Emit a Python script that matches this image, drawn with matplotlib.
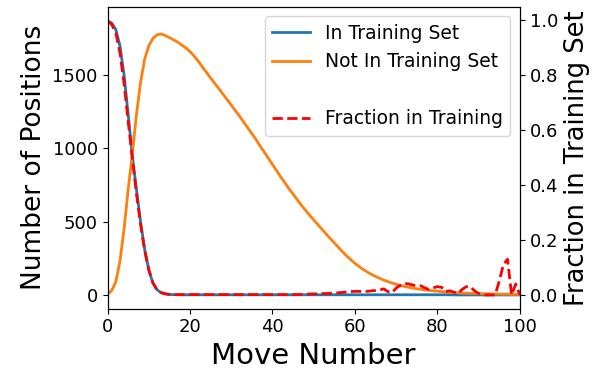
import numpy as np
import matplotlib
matplotlib.use("Agg")
import matplotlib.pyplot as plt
from matplotlib.lines import Line2D

plt.rcParams['font.size'] = 13

# move number 0..100
moves = list(range(0, 101))

in_training = [1870, 1855, 1810, 1700, 1500, 1230, 950, 720, 500, 310,
               170, 80, 35, 15, 7, 3, 2, 1, 1, 1,
               1, 1, 1, 1, 1, 1, 1, 1, 1, 1,
               1, 1, 1, 1, 1, 1, 1, 1, 1, 1,
               1, 1, 1, 1, 1, 1, 1, 1, 1, 1,
               1, 1, 1, 1, 1, 1, 1, 1, 1, 1,
               1, 1, 1, 1, 1, 1, 1, 1, 1, 1,
               1, 1, 1, 1, 1, 1, 1, 1, 1, 1,
               1, 1, 1, 1, 0, 0, 0, 0, 0, 0,
               0, 0, 0, 0, 0, 0, 0, 0, 0, 0,
               0]

not_in_training = [5, 30, 90, 230, 450, 720, 960, 1230, 1450, 1610,
                   1700, 1750, 1775, 1780, 1770, 1755, 1740, 1725, 1705, 1685,
                   1660, 1630, 1595, 1555, 1518, 1480, 1443, 1407, 1370, 1332,
                   1295, 1257, 1220, 1180, 1140, 1100, 1060, 1015, 975, 932,
                   890, 848, 805, 765, 725, 688, 650, 612, 578, 545,
                   512, 480, 448, 416, 385, 355, 324, 294, 266, 240,
                   216, 194, 174, 156, 140, 126, 113, 101, 91, 81,
                   73, 65, 58, 52, 47, 42, 38, 34, 31, 28,
                   25, 23, 20, 18, 16, 15, 13, 12, 11, 10,
                   9, 8, 8, 7, 6, 6, 5, 5, 4, 4,
                   3]

fraction = [0.997, 0.984, 0.953, 0.881, 0.769, 0.631, 0.497, 0.369, 0.256, 0.161,
            0.091, 0.044, 0.019, 0.008, 0.004, 0.002, 0.001, 0.001, 0.001, 0.001,
            0.001, 0.001, 0.001, 0.001, 0.001, 0.001, 0.001, 0.001, 0.001, 0.001,
            0.001, 0.001, 0.001, 0.001, 0.001, 0.001, 0.001, 0.001, 0.001, 0.001,
            0.001, 0.001, 0.001, 0.001, 0.001, 0.001, 0.001, 0.002, 0.003, 0.003,
            0.004, 0.004, 0.005, 0.005, 0.006, 0.006, 0.008, 0.009, 0.011, 0.012,
            0.013, 0.013, 0.012, 0.013, 0.015, 0.016, 0.018, 0.022, 0.012, 0.008,
            0.025, 0.035, 0.042, 0.040, 0.036, 0.033, 0.033, 0.025, 0.020, 0.026,
            0.030, 0.028, 0.012, 0.015, 0.010, 0.005, 0.020, 0.030, 0.030, 0.015,
            0.005, 0.0, 0.0, 0.0, 0.0, 0.05, 0.11, 0.13, 0.0, 0.04,
            0.0]

fig = plt.figure(figsize=(6.01, 3.75), dpi=100)
ax = fig.add_axes([0.179, 0.177, 0.686, 0.804])
ax2 = ax.twinx()

l1, = ax.plot(moves, in_training, color='tab:blue', lw=2, label='In Training Set')
l2, = ax.plot(moves, not_in_training, color='tab:orange', lw=2, label='Not In Training Set')
l3, = ax2.plot(moves, fraction, color='red', ls='--', lw=2, label='Fraction in Training')

ax.set_xlim(0, 100)
ax.set_xlabel('Move Number', fontsize=21)
ax.set_ylabel('Number of Positions', fontsize=19)
ax2.set_ylabel('Fraction in Training Set', fontsize=18.5)
ax2.set_yticks([0.0, 0.2, 0.4, 0.6, 0.8, 1.0])

blank = Line2D([], [], color='none', label=' ')
ax2.legend(handles=[l1, l2, blank, l3], loc='upper right', fontsize=13.5)

plt.savefig('out.png')
